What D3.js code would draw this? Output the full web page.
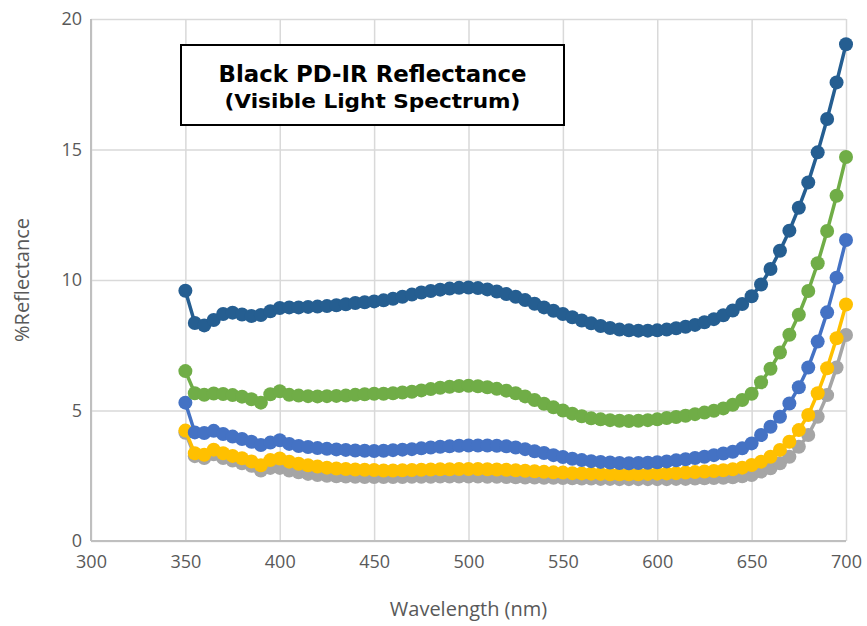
<!DOCTYPE html>
<html>
<head>
<meta charset="utf-8">
<script src="https://cdnjs.cloudflare.com/ajax/libs/d3/7.8.5/d3.min.js"></script>
<style>
  body { margin: 0; background: #fff; }
</style>
</head>
<body>
<div id="chart"></div>
<script>
// wavelengths (nm), one sample every 5 nm
var wavelengths = [350,355,360,365,370,375,380,385,390,395,400,405,410,415,420,425,430,435,440,445,
  450,455,460,465,470,475,480,485,490,495,500,505,510,515,520,525,530,535,540,545,
  550,555,560,565,570,575,580,585,590,595,600,605,610,615,620,625,630,635,640,645,
  650,655,660,665,670,675,680,685,690,695,700];

// % reflectance
var darkBlueValues = [9.59,8.35,8.26,8.47,8.70,8.75,8.68,8.62,8.66,8.80,8.93,8.95,8.95,8.97,8.98,9.00,9.03,9.07,9.12,9.15,
  9.18,9.22,9.28,9.36,9.44,9.52,9.58,9.63,9.67,9.70,9.71,9.69,9.64,9.56,9.46,9.36,9.23,9.09,8.95,8.82,
  8.70,8.57,8.45,8.34,8.24,8.16,8.10,8.07,8.06,8.06,8.07,8.10,8.15,8.21,8.28,8.38,8.50,8.65,8.83,9.08,
  9.38,9.83,10.42,11.12,11.89,12.77,13.74,14.89,16.17,17.57,19.03];

var greenValues = [6.51,5.66,5.60,5.65,5.63,5.59,5.53,5.43,5.30,5.62,5.74,5.60,5.57,5.55,5.54,5.55,5.56,5.57,5.60,5.62,
  5.64,5.64,5.66,5.69,5.72,5.77,5.82,5.87,5.91,5.94,5.95,5.93,5.89,5.83,5.76,5.66,5.54,5.40,5.26,5.12,
  5.00,4.88,4.78,4.70,4.66,4.63,4.61,4.60,4.61,4.63,4.66,4.71,4.75,4.80,4.86,4.92,4.99,5.08,5.22,5.40,
  5.64,6.08,6.60,7.22,7.90,8.67,9.58,10.64,11.88,13.23,14.71];

var blueValues = [5.30,4.16,4.14,4.22,4.10,4.00,3.91,3.80,3.68,3.77,3.86,3.72,3.64,3.60,3.56,3.53,3.51,3.49,3.47,3.46,
  3.45,3.46,3.48,3.50,3.52,3.55,3.58,3.61,3.63,3.65,3.66,3.66,3.66,3.65,3.63,3.58,3.52,3.44,3.37,3.29,
  3.22,3.15,3.10,3.06,3.03,3.01,2.99,2.98,2.99,3.00,3.02,3.05,3.09,3.13,3.18,3.23,3.29,3.35,3.42,3.55,
  3.74,4.06,4.38,4.76,5.27,5.89,6.65,7.64,8.76,10.09,11.53];

var yellowValues = [4.23,3.36,3.30,3.50,3.36,3.26,3.17,3.05,2.90,3.10,3.16,3.04,2.96,2.90,2.85,2.81,2.78,2.76,2.74,2.73,
  2.72,2.70,2.70,2.71,2.72,2.73,2.74,2.75,2.75,2.76,2.76,2.76,2.75,2.74,2.73,2.71,2.69,2.67,2.65,2.63,
  2.62,2.60,2.59,2.58,2.57,2.56,2.56,2.56,2.56,2.57,2.58,2.59,2.60,2.62,2.64,2.66,2.68,2.71,2.75,2.81,
  2.91,3.04,3.23,3.49,3.80,4.25,4.83,5.66,6.62,7.77,9.06];

var grayValues = [4.15,3.25,3.18,3.32,3.18,3.08,2.98,2.88,2.70,2.80,2.80,2.70,2.63,2.57,2.53,2.50,2.48,2.47,2.46,2.45,
  2.45,2.45,2.45,2.45,2.46,2.46,2.46,2.47,2.47,2.47,2.47,2.47,2.46,2.46,2.45,2.44,2.43,2.43,2.42,2.42,
  2.41,2.40,2.39,2.39,2.38,2.38,2.37,2.37,2.37,2.37,2.37,2.37,2.38,2.38,2.39,2.40,2.41,2.42,2.44,2.48,
  2.53,2.66,2.79,2.98,3.23,3.61,4.06,4.76,5.59,6.65,7.89];

var xTicks = [300,350,400,450,500,550,600,650,700];
var yTicks = [0,5,10,15,20];

// drawn back to front, same stacking as the picture
var series = [
  {name: "gray",     color: "#A5A5A5", values: grayValues},
  {name: "yellow",   color: "#FFC000", values: yellowValues},
  {name: "blue",     color: "#4472C4", values: blueValues},
  {name: "green",    color: "#70AD47", values: greenValues},
  {name: "darkBlue", color: "#255E91", values: darkBlueValues}
];

var margin = {top: 19, right: 21, bottom: 85, left: 91},
  width = 867 - margin.left - margin.right,
  height = 626 - margin.top - margin.bottom;

var svg = d3.select("#chart")
  .append("svg")
    .attr("width", 867)
    .attr("height", 626)
  .append("g")
    .attr("transform", "translate(" + margin.left + "," + margin.top + ")");

var x = d3.scaleLinear().domain([300, 700]).range([0, width]);
var y = d3.scaleLinear().domain([0, 20]).range([height, 0]);

// gridlines
svg.append("g")
  .call(d3.axisLeft(y).tickValues(yTicks).tickSize(-width).tickFormat(""))
  .call(function(g) { g.select(".domain").remove(); })
  .selectAll("line")
    .attr("stroke", "#D9D9D9")
    .attr("stroke-width", 1.5);

svg.append("g")
  .attr("transform", "translate(0," + height + ")")
  .call(d3.axisBottom(x).tickValues(xTicks).tickSize(-height).tickFormat(""))
  .call(function(g) { g.select(".domain").remove(); })
  .selectAll("line")
    .attr("stroke", "#D9D9D9")
    .attr("stroke-width", 1.5);

// axis lines
svg.append("line")
  .attr("x1", 0).attr("x2", 0).attr("y1", 0).attr("y2", height)
  .attr("stroke", "#BFBFBF").attr("stroke-width", 2);
svg.append("line")
  .attr("x1", 0).attr("x2", width).attr("y1", height).attr("y2", height)
  .attr("stroke", "#BFBFBF").attr("stroke-width", 2);

// tick labels
var xAxis = svg.append("g")
  .attr("transform", "translate(0," + height + ")")
  .call(d3.axisBottom(x).tickValues(xTicks).tickSize(0).tickPadding(14));
xAxis.select(".domain").remove();
xAxis.selectAll("text")
  .style("font-family", "'Open Sans', sans-serif")
  .style("font-size", "18px")
  .attr("fill", "#595959");

var yAxis = svg.append("g")
  .call(d3.axisLeft(y).tickValues(yTicks).tickSize(0).tickPadding(9));
yAxis.select(".domain").remove();
yAxis.selectAll("text")
  .style("font-family", "'Open Sans', sans-serif")
  .style("font-size", "18px")
  .attr("fill", "#595959");

// axis titles
svg.append("text")
  .attr("x", width / 2)
  .attr("y", height + 75)
  .attr("text-anchor", "middle")
  .style("font-family", "'Open Sans', sans-serif")
  .style("font-size", "20px")
  .attr("fill", "#595959")
  .text("Wavelength (nm)");

svg.append("text")
  .attr("transform", "translate(" + (-62) + "," + (height / 2) + ") rotate(-90)")
  .attr("text-anchor", "middle")
  .style("font-family", "'Open Sans', sans-serif")
  .style("font-size", "20px")
  .attr("fill", "#595959")
  .text("%Reflectance");

// the series
var line = d3.line()
  .x(function(d, i) { return x(wavelengths[i]); })
  .y(function(d) { return y(d); });

series.forEach(function(s) {
  var g = svg.append("g").attr("class", "series " + s.name);
  g.append("path")
    .datum(s.values)
    .attr("fill", "none")
    .attr("stroke", s.color)
    .attr("stroke-width", 3.5)
    .attr("d", line);
  g.selectAll("circle")
    .data(s.values)
    .enter()
    .append("circle")
      .attr("cx", function(d, i) { return x(wavelengths[i]); })
      .attr("cy", function(d) { return y(d); })
      .attr("r", 7)
      .attr("fill", s.color);
});

// title box
var titleBox = svg.append("g").attr("transform", "translate(" + (181 - margin.left) + "," + (45 - margin.top) + ")");
titleBox.append("rect")
  .attr("width", 383)
  .attr("height", 80)
  .attr("fill", "#fff")
  .attr("stroke", "#000")
  .attr("stroke-width", 2);
titleBox.append("text")
  .attr("x", 191.5)
  .attr("y", 36.5)
  .attr("text-anchor", "middle")
  .attr("textLength", 308)
  .attr("lengthAdjust", "spacingAndGlyphs")
  .style("font-family", "'DejaVu Sans', sans-serif")
  .style("font-weight", "bold")
  .style("font-size", "23px")
  .attr("fill", "#000")
  .text("Black PD-IR Reflectance");
titleBox.append("text")
  .attr("x", 191.5)
  .attr("y", 63)
  .attr("text-anchor", "middle")
  .attr("textLength", 296)
  .attr("lengthAdjust", "spacingAndGlyphs")
  .style("font-family", "'DejaVu Sans', sans-serif")
  .style("font-weight", "bold")
  .style("font-size", "19px")
  .attr("fill", "#000")
  .text("(Visible Light Spectrum)");
</script>
</body>
</html>
